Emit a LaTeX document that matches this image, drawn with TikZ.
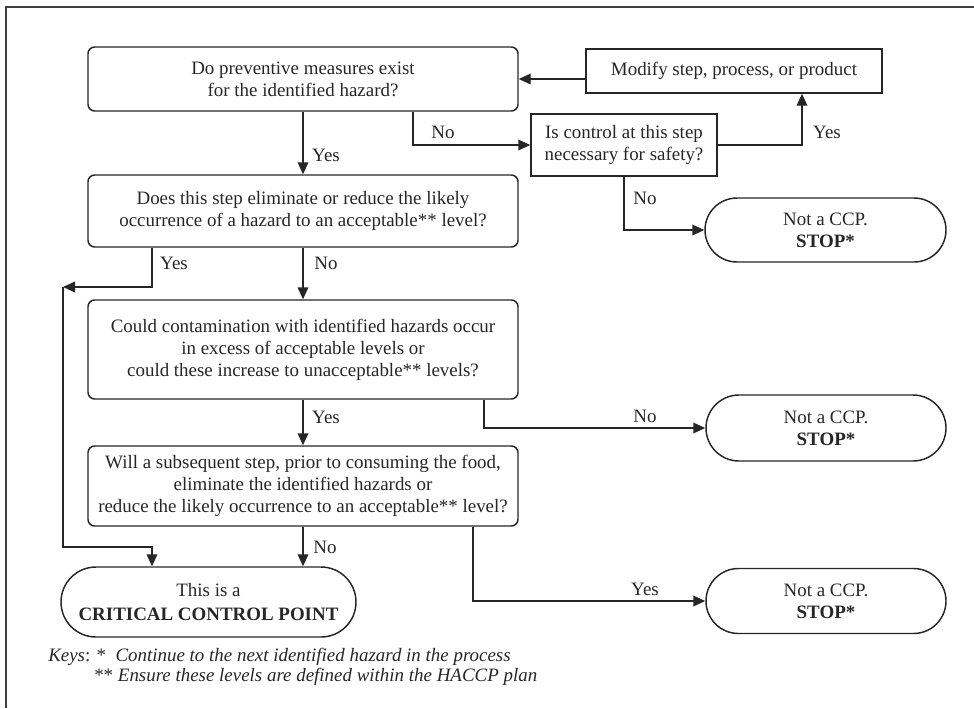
\documentclass[tikz,border=0pt]{standalone}
\usepackage{fontspec}
\setmainfont{Liberation Serif}
\usetikzlibrary{shapes.misc,arrows.meta,calc}
\begin{document}
\begin{tikzpicture}[x=0.75pt,y=-0.75pt,
  font=\fontsize{14.2}{16.5}\selectfont,
  every node/.style={text=black!85},
  line/.style={draw=black!85,line width=1.1pt},
  arr/.style={line,-{Triangle[length=9pt,width=8pt]}},
  qbox/.style={line,rounded corners=5pt,align=center,inner sep=0pt,minimum width={430*0.75pt}},
  sbox/.style={line,align=center,inner sep=0pt},
  term/.style={line,rounded rectangle,align=center,inner sep=0pt},
  lab/.style={inner sep=0pt}]
\useasboundingbox (0,0) rectangle (974,708);
% frame (top and left edges visible)
\draw[draw=black!75,line width=1.2pt] (6,708) -- (6,7) -- (974,7);

% question boxes
\node[qbox,minimum height={64*0.75pt}] (q1) at (303,79) {Do preventive measures exist\\for the identified hazard?};
\node[qbox,minimum height={72*0.75pt}] (q2) at (303,211) {Does this step eliminate or reduce the likely\\occurrence of a hazard to an acceptable** level?};
\node[qbox,minimum height={99*0.75pt}] (q3) at (303,349.5) {Could contamination with identified hazards occur\\in excess of acceptable levels or\\could these increase to unacceptable** levels?};
\node[qbox,minimum height={80*0.75pt}] (q4) at (303,486) {Will a subsequent step, prior to consuming the food,\\eliminate the identified hazards or\\reduce the likely occurrence to an acceptable** level?};

\node[sbox,minimum width={296*0.75pt},minimum height={44*0.75pt}] (mod) at (734,71) {Modify step, process, or product};
\node[sbox,minimum width={186*0.75pt},minimum height={62*0.75pt}] (ctl) at (624,145) {Is control at this step\\necessary for safety?};

% terminals
\node[term,minimum width={241*0.75pt},minimum height={64*0.75pt}] (s1) at (825.5,230) {Not a CCP.\\\textbf{STOP*}};
\node[term,minimum width={240*0.75pt},minimum height={66*0.75pt}] (s2) at (826,428) {Not a CCP.\\\textbf{STOP*}};
\node[term,minimum width={240*0.75pt},minimum height={65*0.75pt}] (s3) at (826,601) {Not a CCP.\\\textbf{STOP*}};
\node[term,minimum width={295*0.75pt},minimum height={70*0.75pt}] (ccp) at (208.5,602) {This is a\\[2pt]\textbf{CRITICAL CONTROL POINT}};

% connectors
\draw[arr] (q1.south) -- (q2.north);
\draw[arr] ($(q1.south)+(110,0)$) |- (ctl.west);
\draw[arr] (mod.west |- q1.east) -- (q1.east);
\draw[arr] (ctl.east) -| ($(mod.south)+(68,0)$);
\draw[arr] (ctl.south) |- (s1.west);
\draw[arr] (q2.south) -- (q3.north);
\coordinate (j1) at (63,287);
\coordinate (j2) at (63,547);
\coordinate (j3) at (152,547);
\draw[arr] ($(q2.south)+(-151,0)$) |- (j1);
\draw[arr] (j1) -- (j2) -- (j3) -- (j3 |- ccp.north);
\draw[arr] (q3.south) -- (q4.north);
\draw[arr] ($(q3.south)+(181,0)$) |- (s2.west);
\draw[arr] (q4.south) -- (q4.south |- ccp.north);
\draw[arr] ($(q4.south)+(170,0)$) |- (s3.west);

% labels
\node[lab] (l1) at (326,155) {Yes};
\node[lab] (l2) at (443,132) {No};
\node[lab] (l3) at (827,132) {Yes};
\node[lab] (l4) at (645,198) {No};
\node[lab] (l5) at (174,263) {Yes};
\node[lab] (l6) at (326,263) {No};
\node[lab] (l7) at (326,417) {Yes};
\node[lab] (l8) at (645,416) {No};
\node[lab] (l9) at (325,547) {No};
\node[lab] (l10) at (645,589) {Yes};

% keys
\node[lab,anchor=west] (k1) at (48,657) {\textit{Keys}: *\ \ \textit{Continue to the next identified hazard in the process}};
\node[lab,anchor=west] (k2) at (94,677) {** \textit{Ensure these levels are defined within the HACCP plan}};
\end{tikzpicture}
\end{document}
